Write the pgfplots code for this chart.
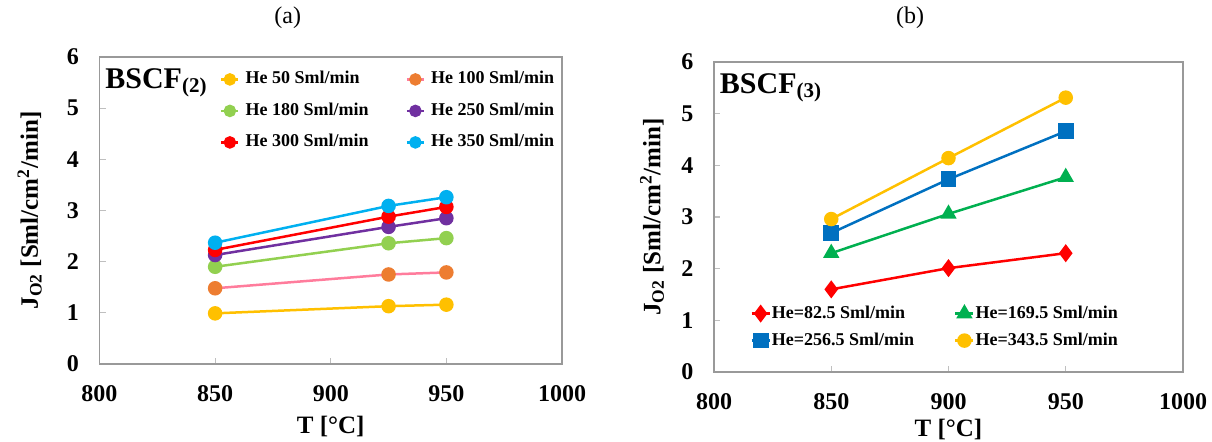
\documentclass[border=0pt]{standalone}
\usepackage{fontspec}
\setmainfont{Liberation Serif}
\usepackage{pgfplots}
\pgfplotsset{compat=1.18}
\definecolor{cGold}{HTML}{FFC000}
\definecolor{cPink}{HTML}{FF7C9C}
\definecolor{cOrange}{HTML}{ED7D31}
\definecolor{cLGreen}{HTML}{92D050}
\definecolor{cPurple}{HTML}{7030A0}
\definecolor{cRed}{HTML}{FF0000}
\definecolor{cCyan}{HTML}{00B0F0}
\definecolor{cGreen}{HTML}{00B050}
\definecolor{cBlue}{HTML}{0070C0}
\pgfplotsset{
 myaxis/.style={
  scale only axis, clip=false,
  xmin=800, xmax=1000, ymin=0, ymax=6,
  xtick={800,850,900,950,1000}, ytick={0,1,2,3,4,5,6},
  tick align=inside, tick pos=left, major tick length=3pt,
  tick style={draw=black!25, line width=0.6pt},
  axis line style={draw=black!40, line width=0.75pt},
  ticklabel style={font=\fontsize{12}{14}\selectfont\bfseries},
  /pgf/number format/assume math mode=true,
  /pgf/number format/1000 sep={},
  xticklabel style={yshift=-7pt},
  yticklabel style={xshift=-6.75pt},
  label style={font=\fontsize{12.5}{15}\selectfont\bfseries},
  xlabel style={at={(rel axis cs:0.5,0)}, anchor=center, yshift=-31pt},
  xlabel={T [°C]},
  ylabel={J\textsubscript{O2} [Sml/cm\textsuperscript{2}/min]},
  legend cell align=left,
  every axis plot/.append style={line width=1.25pt},
 }
}
\begin{document}
\begin{tikzpicture}
\useasboundingbox (0,0) rectangle (606pt,220.5pt);
% ---------------- (a) ----------------
\begin{axis}[myaxis,
  at={(49.75pt,38.5pt)}, anchor=south west,
  width=231.25pt, height=153.5pt,
  ylabel style={at={(rel axis cs:-0.151,0.5)}, anchor=center},
  legend columns=2,
  legend style={draw=none, fill=none, font=\fontsize{9}{11}\selectfont\bfseries,
    inner sep=0pt, row sep=7.25pt,
    nodes={inner xsep=3pt, inner ysep=0pt, text height=6.5pt, text depth=2pt, anchor=west},
    /tikz/every even column/.append style={column sep=15.5pt},
    at={(rel axis cs:0.26,0.956)}, anchor=north west},
  legend image code/.code={\draw[mark repeat=2,mark phase=2,#1,mark size=2.5pt] plot coordinates {(0pt,0pt) (4.25pt,0pt) (8.5pt,0pt)};},
]
\addplot[color=cGold, mark=*, mark size=3pt, mark options={fill=cGold, draw=cGold}] coordinates {(850,0.99) (925,1.13) (950,1.16)};
\addlegendentry{He 50 Sml/min}
\addplot[color=cPink, mark=*, mark size=3pt, mark options={fill=cOrange, draw=cOrange}] coordinates {(850,1.48) (925,1.75) (950,1.79)};
\addlegendentry{He 100 Sml/min}
\addplot[color=cLGreen, mark=*, mark size=3pt, mark options={fill=cLGreen, draw=cLGreen}] coordinates {(850,1.90) (925,2.36) (950,2.46)};
\addlegendentry{He 180 Sml/min}
\addplot[color=cPurple, mark=*, mark size=3pt, mark options={fill=cPurple, draw=cPurple}] coordinates {(850,2.13) (925,2.68) (950,2.85)};
\addlegendentry{He 250 Sml/min}
\addplot[color=cRed, mark=*, mark size=3pt, mark options={fill=cRed, draw=cRed}] coordinates {(850,2.23) (925,2.88) (950,3.07)};
\addlegendentry{He 300 Sml/min}
\addplot[color=cCyan, mark=*, mark size=3pt, mark options={fill=cCyan, draw=cCyan}] coordinates {(850,2.37) (925,3.09) (950,3.26)};
\addlegendentry{He 350 Sml/min}
\node[anchor=base west, inner sep=0pt, xshift=2.75pt, yshift=-15.5pt, font=\fontsize{15}{17}\selectfont\bfseries] at (rel axis cs:0,1) {BSCF\textsubscript{(2)}};
\node[font=\fontsize{12}{14}\selectfont, yshift=19.5pt] at (rel axis cs:0.407,1) {(a)};
\end{axis}
% ---------------- (b) ----------------
\begin{axis}[myaxis,
  at={(357pt,34.5pt)}, anchor=south west,
  width=234.5pt, height=155pt,
  ylabel style={at={(rel axis cs:-0.132,0.5)}, anchor=center},
  xlabel style={yshift=2.5pt},
  legend columns=2,
  legend style={draw=none, fill=none, font=\fontsize{9}{11}\selectfont\bfseries,
    inner sep=0pt, row sep=5pt,
    nodes={inner xsep=0.5pt, inner ysep=0pt, text height=6.5pt, text depth=2pt, anchor=west},
    /tikz/every even column/.append style={column sep=19.5pt},
    at={(rel axis cs:0.0768,0.0726)}, anchor=south west},
  legend image code/.code={\draw[mark repeat=2,mark phase=2,#1] plot coordinates {(0pt,0pt) (4.5pt,0pt) (9pt,0pt)};},
]
\addplot[color=cRed, mark=diamond*, mark size=3.5pt, mark options={fill=cRed, draw=cRed}] coordinates {(850,1.60) (900,2.01) (950,2.30)};
\addlegendentry{He=82.5 Sml/min}
\addplot[color=cGreen, mark=triangle*, mark size=3.5pt, mark options={fill=cGreen, draw=cGreen}] coordinates {(850,2.30) (900,3.06) (950,3.77)};
\addlegendentry{He=169.5 Sml/min}
\addplot[color=cBlue, mark=square*, mark size=3.3pt, mark options={fill=cBlue, draw=cBlue}] coordinates {(850,2.69) (900,3.73) (950,4.66)};
\addlegendentry{He=256.5 Sml/min}
\addplot[color=cGold, mark=*, mark size=3pt, mark options={fill=cGold, draw=cGold}] coordinates {(850,2.96) (900,4.14) (950,5.31)};
\addlegendentry{He=343.5 Sml/min}
\node[anchor=base west, inner sep=0pt, xshift=2.75pt, yshift=-15.5pt, font=\fontsize{15}{17}\selectfont\bfseries] at (rel axis cs:0,1) {BSCF\textsubscript{(3)}};
\node[font=\fontsize{12}{14}\selectfont, yshift=22pt] at (rel axis cs:0.418,1) {(b)};
\end{axis}
\end{tikzpicture}
\end{document}
